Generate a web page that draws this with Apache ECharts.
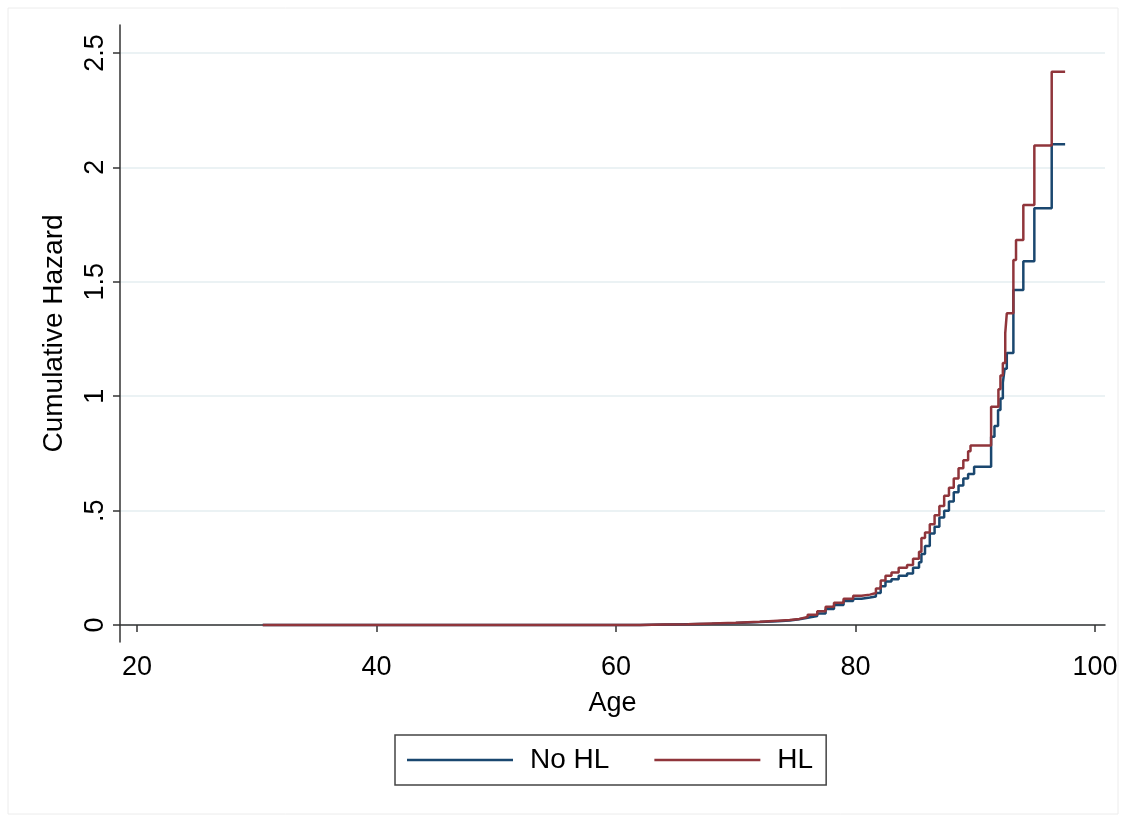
<!DOCTYPE html>
<html>
<head>
<meta charset="utf-8">
<script src="https://cdn.jsdelivr.net/npm/echarts@6/dist/echarts.min.js"></script>
<style>
  html, body { margin: 0; padding: 0; background: #fff; }
  #chart { width: 1128px; height: 823px; }
</style>
</head>
<body>
<div id="chart"></div>
<script>
// Nelson-Aalen cumulative hazard by age
var ageNoHL = [30.5, 62, 64, 66, 68, 70, 72, 73.5, 74.5, 75.3, 76, 76.8, 77.5, 78.2, 79, 79.8, 80.5, 81.2, 81.7, 82.1, 82.5, 83, 83.6, 84.3, 84.8, 85.3, 85.5, 85.8, 86.2, 86.6, 87, 87.4, 87.8, 88.2, 88.6, 89, 89.4, 89.9, 91.32, 91.6, 91.9, 92.1, 92.3, 92.45, 92.63, 93.18, 94.01, 94.93, 96.38, 97.5];
var hazNoHL = [0, 0.002, 0.004, 0.006, 0.009, 0.013, 0.017, 0.02, 0.025, 0.032, 0.04, 0.05, 0.07, 0.088, 0.105, 0.115, 0.12, 0.125, 0.14, 0.17, 0.19, 0.2, 0.215, 0.225, 0.25, 0.275, 0.31, 0.345, 0.4, 0.43, 0.47, 0.5, 0.54, 0.58, 0.61, 0.64, 0.66, 0.692, 0.823, 0.87, 0.94, 0.99, 1.06, 1.12, 1.189, 1.464, 1.59, 1.821, 2.101, 2.101];

var ageHL = [30.5, 62, 64, 66, 68, 70, 72, 73.5, 74.5, 75.3, 76, 76.8, 77.5, 78.2, 79, 79.8, 80.5, 81.2, 81.7, 82.1, 82.5, 83, 83.6, 84.3, 84.8, 85.3, 85.5, 85.8, 86.2, 86.6, 87, 87.4, 87.8, 88.2, 88.6, 89, 89.4, 89.6, 91.32, 91.93, 92.1, 92.3, 92.5, 92.63, 93.18, 93.4, 94.01, 94.93, 96.38, 97.5];
var hazHL = [0, 0.002, 0.004, 0.007, 0.01, 0.014, 0.019, 0.022, 0.027, 0.035, 0.045, 0.06, 0.08, 0.098, 0.115, 0.128, 0.133, 0.14, 0.16, 0.195, 0.215, 0.23, 0.25, 0.262, 0.29, 0.32, 0.38, 0.405, 0.44, 0.48, 0.52, 0.565, 0.6, 0.64, 0.685, 0.72, 0.76, 0.785, 0.954, 1.03, 1.09, 1.145, 1.276, 1.362, 1.595, 1.683, 1.836, 2.095, 2.418, 2.418];

var xTicks = [20, 40, 60, 80, 100];
var yTicks = [0, 0.5, 1, 1.5, 2, 2.5];
var yTickLabels = ['0', '.5', '1', '1.5', '2', '2.5'];

function pairs(xs, ys) {
  return xs.map(function (x, i) { return [x, ys[i]]; });
}

var font = 'Liberation Sans, Arial, Helvetica, sans-serif';
var myChart = echarts.init(document.getElementById('chart'), null, { renderer: 'canvas' });

var option = {
  backgroundColor: '#fff',
  animation: false,
  textStyle: { fontFamily: font },
  graphic: [{
    type: 'rect',
    shape: { x: 8, y: 8, width: 1110, height: 806 },
    style: { fill: 'none', stroke: '#ececec', lineWidth: 1 },
    silent: true,
    z: -1
  }],
  grid: { left: 120, top: 25, right: 23, bottom: 181 },
  legend: {
    left: 395,
    top: 735,
    padding: [11, 13, 11, 12],
    borderColor: '#444',
    borderWidth: 1.5,
    icon: 'rect',
    itemWidth: 106,
    itemHeight: 2.5,
    itemGap: 45,
    textStyle: { fontSize: 28, color: '#000', fontFamily: font, padding: [0, 0, 0, 12] },
    data: ['No HL', 'HL']
  },
  xAxis: {
    type: 'value',
    min: 18.58,
    max: 100.83,
    name: 'Age',
    nameLocation: 'middle',
    nameGap: 48,
    nameTextStyle: { fontSize: 27, color: '#000', fontFamily: font },
    axisLine: { lineStyle: { color: '#333', width: 1.5 } },
    axisTick: { customValues: xTicks, length: 7, lineStyle: { color: '#333', width: 1.5 } },
    axisLabel: { customValues: xTicks, fontSize: 27, color: '#000', margin: 12, fontFamily: font },
    splitLine: { show: false }
  },
  yAxis: {
    type: 'value',
    min: -0.074,
    max: 2.622,
    name: 'Cumulative Hazard',
    nameLocation: 'middle',
    nameGap: 52,
    nameTextStyle: { fontSize: 28, color: '#000', fontFamily: font },
    axisLine: { show: true, lineStyle: { color: '#333', width: 1.5 } },
    axisTick: { show: true, customValues: yTicks, length: 7, lineStyle: { color: '#333', width: 1.5 } },
    axisLabel: {
      customValues: yTicks,
      rotate: 90,
      fontSize: 27,
      color: '#000',
      margin: 11,
      fontFamily: font,
      formatter: function (v) {
        var i = yTicks.indexOf(v);
        return i >= 0 ? yTickLabels[i] : '';
      }
    },
    splitLine: { show: true, lineStyle: { color: '#e4eef0', width: 1.5 } }
  },
  series: [{
    name: 'No HL',
    type: 'line',
    step: 'end',
    symbol: 'none',
    color: '#1a476f',
    lineStyle: { width: 2.5, color: '#1a476f' },
    data: pairs(ageNoHL, hazNoHL)
  }, {
    name: 'HL',
    type: 'line',
    step: 'end',
    symbol: 'none',
    color: '#90353b',
    lineStyle: { width: 2.5, color: '#90353b' },
    data: pairs(ageHL, hazHL)
  }]
};

option && myChart.setOption(option);
</script>
</body>
</html>
